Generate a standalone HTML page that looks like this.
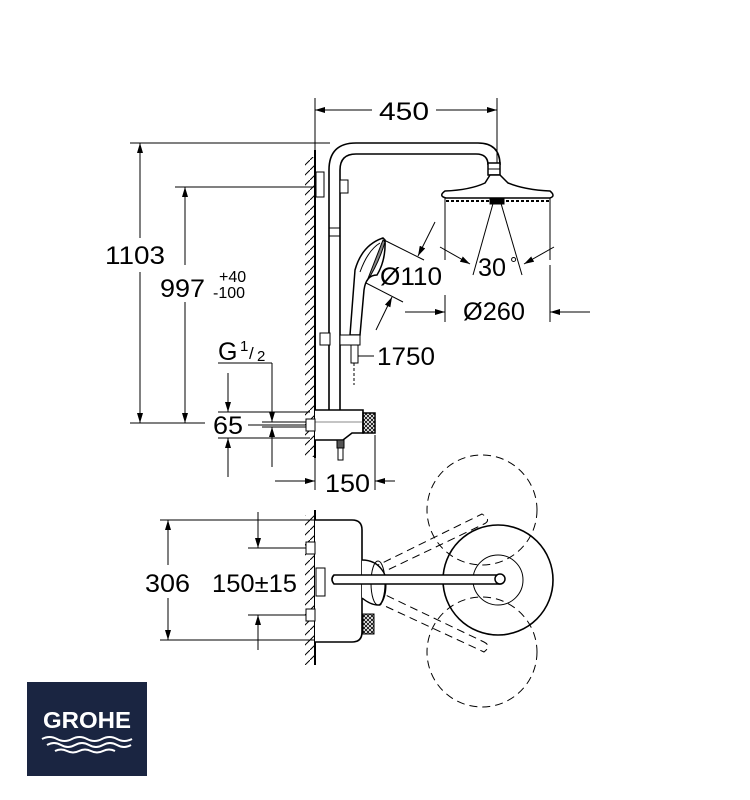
<!DOCTYPE html>
<html><head><meta charset="utf-8"><style>
html,body{margin:0;padding:0;background:#fff;}
svg{display:block;}
text{font-family:"Liberation Sans",sans-serif;fill:#000;}
</style></head><body>
<svg width="750" height="800" viewBox="0 0 750 800" xmlns="http://www.w3.org/2000/svg">
<defs>
<marker id="a" viewBox="0 0 10 6" refX="10" refY="3" markerWidth="10" markerHeight="6" orient="auto-start-reverse" markerUnits="userSpaceOnUse"><path d="M0,0 L10,3 L0,6 z" fill="#000"/></marker>
<pattern id="h" width="10" height="10" patternUnits="userSpaceOnUse"><path d="M0,10 L10,0" stroke="#000" stroke-width="1"/></pattern>
<pattern id="x" width="4" height="4" patternUnits="userSpaceOnUse"><path d="M0,0 L4,4 M4,0 L0,4" stroke="#000" stroke-width="0.8"/></pattern>
</defs>
<g stroke="#000" fill="none" stroke-width="1">
<line x1="315" y1="98" x2="315" y2="150"/><line x1="497" y1="98" x2="497" y2="168"/>
<line x1="315" y1="110" x2="372" y2="110" marker-start="url(#a)"/>
<line x1="436" y1="110" x2="497" y2="110" marker-end="url(#a)"/>
<line x1="130" y1="143" x2="330" y2="143"/>
<line x1="130" y1="423" x2="205" y2="423"/>
<line x1="140" y1="143" x2="140" y2="238" marker-start="url(#a)"/>
<line x1="140" y1="272" x2="140" y2="423" marker-end="url(#a)"/>
<line x1="175" y1="187" x2="320" y2="187"/>
<line x1="185" y1="187" x2="185" y2="265" marker-start="url(#a)"/>
<line x1="185" y1="302" x2="185" y2="423" marker-end="url(#a)"/>
<line x1="218" y1="363" x2="272" y2="363"/>
<line x1="272" y1="363" x2="272" y2="422" marker-end="url(#a)"/>
<line x1="272" y1="467" x2="272" y2="427" marker-end="url(#a)"/>
<line x1="262" y1="422" x2="310" y2="422"/><line x1="262" y1="427" x2="310" y2="427"/>
<line x1="228" y1="373" x2="228" y2="412" marker-end="url(#a)"/>
<line x1="228" y1="477" x2="228" y2="438" marker-end="url(#a)"/>
<line x1="218" y1="412" x2="310" y2="412"/><line x1="218" y1="438" x2="310" y2="438"/>
<line x1="248" y1="425" x2="305" y2="425"/>
<line x1="315" y1="435" x2="315" y2="490"/><line x1="375" y1="435" x2="375" y2="490"/>
<line x1="275" y1="481" x2="315" y2="481" marker-end="url(#a)"/>
<line x1="395" y1="481" x2="375" y2="481" marker-end="url(#a)"/>
<rect x="305" y="157" width="10" height="300" fill="url(#h)" stroke="none"/>
<line x1="315" y1="150" x2="315" y2="458" stroke-width="2"/>
<path d="M329,410 L329,170 Q329,143 356,143 L478,143 Q500,143 500,165" stroke-width="1.6"/>
<path d="M340,410 L340,170 Q340,154 356,154 L476,154 Q488,154 488,165" stroke-width="1.6"/>
<line x1="329" y1="228" x2="340" y2="228"/><line x1="329" y1="236" x2="340" y2="236"/>
<rect x="488" y="163" width="12" height="12" fill="#fff" stroke-width="1.5"/>
<line x1="488" y1="169" x2="500" y2="169"/>
<rect x="316" y="172" width="8" height="25" fill="#fff"/>
<rect x="340" y="180" width="8" height="13" fill="#fff"/>
<path d="M490,175 L485,183 Q470,190 445,191 Q438,196 446,198 L550,198 Q556,196 550,191 Q525,190 508,183 L500,175 Z" fill="#fff" stroke-width="1.5"/>
<line x1="446" y1="201" x2="550" y2="201" stroke-width="2" stroke-dasharray="3,2"/>
<rect x="490" y="199" width="14" height="5" fill="#000"/>
<line x1="445" y1="198" x2="445" y2="260"/><line x1="550" y1="198" x2="550" y2="260"/>
<line x1="494" y1="200" x2="473" y2="275"/><line x1="500" y1="200" x2="522" y2="275"/>
<line x1="440" y1="247" x2="470" y2="264" marker-end="url(#a)"/>
<line x1="554" y1="247" x2="524" y2="264" marker-end="url(#a)"/>
<line x1="550" y1="265" x2="550" y2="322"/><line x1="445" y1="295" x2="445" y2="322"/>
<line x1="405" y1="312" x2="445" y2="312" marker-end="url(#a)"/>
<line x1="590" y1="312" x2="550" y2="312" marker-end="url(#a)"/>
<path d="M383,238 Q362,245 355,270 L350,335 L360,335 L364,290 Q366,275 377,275 Q386,260 385,240 Z" fill="#fff" stroke-width="1.5"/>
<path d="M380,243 Q368,250 360,272" />
<path d="M383,240 L367,281 Q378,265 385,242 Z" fill="#888" stroke-width="1"/>
<line x1="384" y1="240" x2="424" y2="260"/><line x1="366" y1="283" x2="403" y2="302"/>
<line x1="435" y1="222" x2="418" y2="256" marker-end="url(#a)"/>
<line x1="376" y1="330" x2="392" y2="297" marker-end="url(#a)"/>
<rect x="320" y="333" width="10" height="12" fill="#fff"/>
<path d="M340,335 L360,335 L360,345 L340,345 Z" fill="#fff"/>
<rect x="351" y="345" width="7" height="18" fill="#fff"/>
<line x1="354" y1="363" x2="354" y2="385" stroke-dasharray="3,2"/>
<line x1="358" y1="356" x2="374" y2="356"/>
<path d="M315,410 L363,410 L363,433 L352,433 L343,440 L315,440" fill="#fff" stroke-width="1.6"/>
<line x1="315" y1="422" x2="363" y2="422" stroke="#888"/>
<rect x="363" y="413" width="12" height="20" fill="url(#x)" stroke-width="1.5"/>
<rect x="306" y="419" width="9" height="12" fill="#fff"/>
<rect x="337" y="440" width="7" height="8" fill="#555"/>
<rect x="338" y="448" width="5" height="12" fill="#fff"/>
<line x1="160" y1="520" x2="320" y2="520"/><line x1="160" y1="640" x2="320" y2="640"/>
<line x1="168" y1="520" x2="168" y2="565" marker-start="url(#a)"/>
<line x1="168" y1="598" x2="168" y2="640" marker-end="url(#a)"/>
<line x1="258" y1="512" x2="258" y2="548" marker-end="url(#a)"/>
<line x1="258" y1="650" x2="258" y2="615" marker-end="url(#a)"/>
<line x1="248" y1="548" x2="310" y2="548"/><line x1="248" y1="615" x2="310" y2="615"/>
<rect x="305" y="515" width="10" height="150" fill="url(#h)" stroke="none"/>
<line x1="315" y1="510" x2="315" y2="665" stroke-width="2"/>
<path d="M315,520 L352,520 Q362,520 362,530 L362,632 Q362,642 352,642 L315,642" fill="#fff" stroke-width="1.6"/>
<rect x="306" y="542" width="9" height="12" fill="#fff"/><rect x="306" y="609" width="9" height="12" fill="#fff"/>
<rect x="363" y="614" width="11" height="20" fill="url(#x)"/>
<g stroke-dasharray="8,5">
<circle cx="482" cy="510" r="55"/><circle cx="482" cy="652" r="55"/>
<path d="M372,568 L482,514 Q492,520 484,524 L375,576"/>
<path d="M375,590 L484,642 Q492,646 484,652 L372,600"/>
</g>
<path d="M362,560 Q378,560 385,575 Q388,595 380,605 Q372,606 362,598" fill="#fff" stroke-width="1.4"/>
<ellipse cx="378" cy="583" rx="7" ry="22" fill="none"/>
<circle cx="498" cy="580" r="55" stroke-width="1.6"/>
<circle cx="498" cy="580" r="25"/>
<rect x="316" y="568" width="9" height="28" fill="#fff"/>
<path d="M334,575 L500,575 Q505,579 500,584 L334,584 Q330,579 334,575 Z" fill="#fff" stroke-width="1.6"/>
<circle cx="500" cy="579" r="5" fill="#fff" stroke-width="1.5"/>
</g>
<g font-size="25">
<text x="379" y="120" textLength="50" lengthAdjust="spacingAndGlyphs">450</text>
<text x="105" y="264" textLength="60" lengthAdjust="spacingAndGlyphs">1103</text>
<text x="160" y="297" textLength="45" lengthAdjust="spacingAndGlyphs">997</text>
<text x="219" y="282" font-size="16">+40</text>
<text x="213" y="298" font-size="16">-100</text>
<text x="218" y="360">G</text>
<text x="240" y="351" font-size="15">1</text>
<text x="249" y="359" font-size="17">/</text>
<text x="257" y="361" font-size="15">2</text>
<text x="213" y="434" textLength="30" lengthAdjust="spacingAndGlyphs">65</text>
<text x="325" y="492" textLength="45" lengthAdjust="spacingAndGlyphs">150</text>
<text x="380" y="285" textLength="62" lengthAdjust="spacingAndGlyphs">Ø110</text>
<text x="478" y="276" textLength="28" lengthAdjust="spacingAndGlyphs">30</text>
<text x="510" y="270" font-size="18">°</text>
<text x="463" y="320" textLength="62" lengthAdjust="spacingAndGlyphs">Ø260</text>
<text x="377" y="365" textLength="58" lengthAdjust="spacingAndGlyphs">1750</text>
<text x="145" y="592" textLength="45" lengthAdjust="spacingAndGlyphs">306</text>
<text x="212" y="592" textLength="85" lengthAdjust="spacingAndGlyphs">150±15</text>
</g>
<rect x="27" y="682" width="120" height="94" fill="#1a2541"/>
<text x="87" y="728" font-size="23" font-weight="bold" text-anchor="middle" textLength="88" lengthAdjust="spacingAndGlyphs" style="fill:#fff">GROHE</text>
<g stroke="#fff" stroke-width="2" fill="none">
<path d="M42,739 q7.5,-4 15,0 t15,0 t15,0 t15,0 t15,0 t15,0"/>
<path d="M47,745 q7,-4 14,0 t14,0 t14,0 t14,0 t14,0 t14,0"/>
<path d="M55,751 q6,-3 12,0 t12,0 t12,0 t12,0 t12,0"/>
</g>
</svg>
</body></html>
